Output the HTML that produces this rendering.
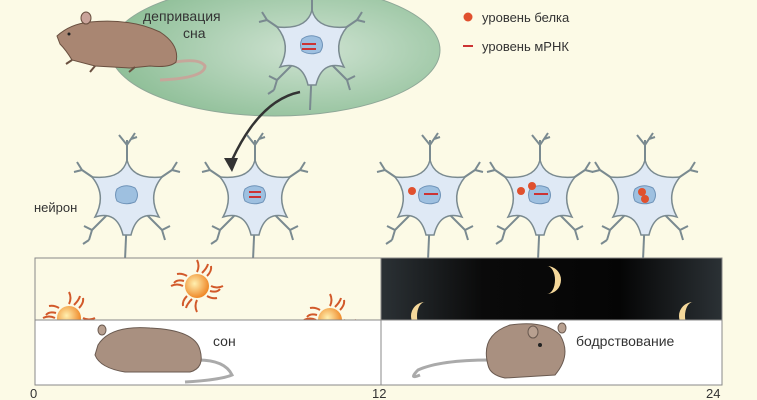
<!DOCTYPE html>
<html><head><meta charset="utf-8"><style>
html,body{margin:0;padding:0;background:#fcfae6;}
svg{display:block;font-family:"Liberation Sans",sans-serif;}
</style></head><body>
<svg width="757" height="400" viewBox="0 0 757 400">
<defs>
<radialGradient id="g" cx="0.6" cy="0.5" r="0.6"><stop offset="0" stop-color="#cfe3d2"/><stop offset="1" stop-color="#8fbf98"/></radialGradient>
<radialGradient id="sun" cx="0.4" cy="0.4" r="0.6"><stop offset="0" stop-color="#fff0b0"/><stop offset="1" stop-color="#ef8a2a"/></radialGradient>
<linearGradient id="night" x1="0" x2="1"><stop offset="0" stop-color="#2b3135"/><stop offset="0.3" stop-color="#0a0a0a"/><stop offset="0.7" stop-color="#050505"/><stop offset="1" stop-color="#2b3135"/></linearGradient>
<g id="neu">
<g fill="none" stroke="#7a8a90" stroke-width="2">
<path d="M0,-20 L0,-55 M0,-50 l-8,-10 m8,10 l8,-12 m-4,6 l6,-2"/>
<path d="M-20,-8 L-45,-25 l-8,2 m8,-2 l-5,-8"/>
<path d="M20,-8 L45,-25 l8,2 m-8,-2 l5,-8"/>
<path d="M-15,15 L-35,35 l-8,-4 m8,4 l-3,10 m0,0 l-6,4"/>
<path d="M15,15 L35,35 l8,-4 m-8,4 l3,10"/>
<path d="M0,20 L-2,65"/>
</g>
<path d="M0,-35 Q5,-15 35,-18 Q20,0 32,22 Q10,15 4,40 L-4,40 Q-10,15 -32,22 Q-20,0 -35,-18 Q-5,-15 0,-35Z" fill="#dfe9f5" stroke="#7a8a90" stroke-width="1.5"/>
<path d="M-10,-6 Q-2,-12 8,-7 Q13,0 8,7 Q-2,11 -10,6 Q-13,0 -10,-6Z" fill="#9ec0e0" stroke="#6f93b8" stroke-width="1"/>
</g>
<g id="sunS"><g stroke="#d2592a" stroke-width="2" fill="none">
<path d="M0,-14 q3,-6 0,-12 M0,14 q-3,6 0,12 M-14,0 q-6,-3 -12,0 M14,0 q6,3 12,0 M10,-10 q5,-5 4,-10 M-10,10 q-5,5 -4,10 M-10,-10 q-5,-3 -10,-2 M10,10 q5,3 10,2 M5,-13 q5,-5 6,-9 M-5,13 q-5,5 -6,9 M-13,-5 q-7,-2 -10,2 M13,5 q7,2 10,-2"/></g>
<circle r="12" fill="url(#sun)"/></g>
<path id="moonL" d="M0,-14 A14,14 0 1 0 0,14 A8,14 0 0 1 0,-14Z" fill="#f5d89a"/>
<path id="moonR" d="M0,-14 A14,14 0 1 1 0,14 A8,14 0 0 0 0,-14Z" fill="#f5d89a"/>
</defs>
<ellipse cx="275" cy="50" rx="165" ry="66" fill="url(#g)" stroke="#8fa898"/>
<text x="143" y="21" font-size="14" fill="#333">депривация</text>
<text x="183" y="38" font-size="14" fill="#333">сна</text>
<use href="#neu" x="312" y="45"/>
<rect x="302" y="43" width="14" height="2" fill="#c33"/><rect x="302" y="48" width="14" height="2" fill="#c33"/>
<!-- rat -->
<path d="M175,62 Q200,58 205,66 Q205,78 160,80" fill="none" stroke="#c6a69a" stroke-width="3"/>
<path d="M57,36 Q70,24 90,22 Q130,18 160,32 Q180,45 176,62 Q170,68 150,66 L130,68 L95,66 L72,60 Q66,50 60,44Z" fill="#a98672" stroke="#6a5040"/>
<path d="M72,60 l-6,4 M95,66 l-5,6 M135,67 l-6,5" stroke="#6a5040" stroke-width="2"/>
<ellipse cx="86" cy="18" rx="5" ry="6" fill="#c9a39a" stroke="#6a5040"/>
<circle cx="69" cy="34" r="1.5" fill="#222"/>
<path d="M300,92 Q260,100 232,160" fill="none" stroke="#333" stroke-width="2.5"/>
<path d="M224,158 L232,172 L238,158Z" fill="#333"/>
<circle cx="468" cy="17" r="4.5" fill="#e0502e"/><text x="482" y="22" font-size="13" fill="#333">уровень белка</text>
<rect x="463" y="45" width="10" height="2" fill="#c33"/><text x="482" y="51" font-size="13" fill="#333">уровень мРНК</text>
<text x="34" y="212" font-size="13" fill="#333">нейрон</text>
<use href="#neu" x="127" y="195"/>
<use href="#neu" x="255" y="195"/>
<rect x="249" y="191" width="12" height="2" fill="#c33"/><rect x="249" y="196" width="12" height="2" fill="#c33"/>
<use href="#neu" x="430" y="195"/>
<rect x="424" y="193" width="14" height="2" fill="#c33"/><circle cx="412" cy="191" r="4" fill="#e0502e"/>
<use href="#neu" x="540" y="195"/>
<rect x="534" y="193" width="14" height="2" fill="#c33"/><circle cx="521" cy="191" r="4" fill="#e0502e"/><circle cx="532" cy="186" r="4" fill="#e0502e"/>
<use href="#neu" x="645" y="195"/>
<circle cx="642" cy="192" r="4" fill="#e0502e"/><circle cx="645" cy="199" r="4" fill="#e0502e"/>
<!-- chart -->
<rect x="35" y="258" width="346" height="62" fill="#fcfae6"/>
<rect x="381" y="258" width="341" height="62" fill="url(#night)"/>
<rect x="35" y="320" width="687" height="65" fill="#fff"/>
<svg x="35" y="258" width="346" height="62" overflow="hidden">
<use href="#sunS" x="34" y="60"/><use href="#sunS" x="162" y="28"/><use href="#sunS" x="295" y="62"/></svg>
<svg x="381" y="258" width="341" height="62" overflow="hidden">
<use href="#moonR" x="166" y="22"/><use href="#moonL" x="44" y="58"/><use href="#moonL" x="312" y="58"/></svg>
<rect x="35" y="258" width="687" height="127" fill="none" stroke="#888" stroke-width="1"/>
<line x1="35" y1="320" x2="722" y2="320" stroke="#888"/><line x1="381" y1="258" x2="381" y2="385" stroke="#888"/>
<!-- sleeping rat -->
<path d="M198,360 Q225,360 232,375 Q220,380 185,382" fill="none" stroke="#aaa" stroke-width="3"/>
<path d="M98,345 Q110,325 150,328 Q195,330 200,350 Q205,368 190,372 L125,372 Q100,368 95,355Z" fill="#a99080" stroke="#6a5a50"/>
<ellipse cx="102" cy="330" rx="4" ry="5" fill="#b8a090" stroke="#6a5a50"/>
<text x="213" y="346" font-size="14" fill="#333">сон</text>
<!-- awake rat -->
<path d="M490,360 Q440,360 418,370 Q408,380 420,375" fill="none" stroke="#aaa" stroke-width="3"/>
<path d="M488,365 Q480,335 510,325 Q545,320 560,335 Q572,355 555,375 L505,378 Q490,375 488,365Z" fill="#a99080" stroke="#6a5a50"/>
<ellipse cx="533" cy="332" rx="5" ry="6" fill="#b8a090" stroke="#6a5a50"/>
<ellipse cx="562" cy="328" rx="4" ry="5" fill="#b8a090" stroke="#6a5a50"/>
<circle cx="540" cy="345" r="2" fill="#222"/>
<text x="576" y="346" font-size="14" fill="#333">бодрствование</text>
<text x="30" y="398" font-size="13" fill="#333">0</text>
<text x="372" y="398" font-size="13" fill="#333">12</text>
<text x="706" y="398" font-size="13" fill="#333">24</text>
</svg>
</body></html>
